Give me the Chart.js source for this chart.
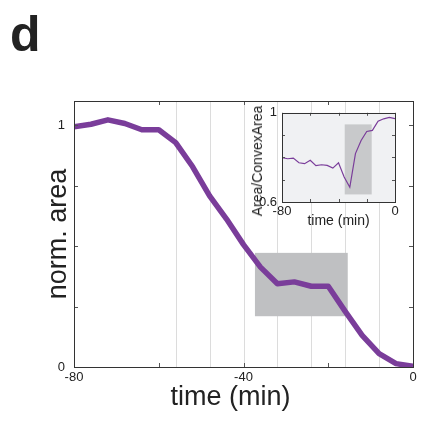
<!DOCTYPE html>
<html>
<head>
<meta charset="utf-8">
<script src="https://cdn.jsdelivr.net/npm/chart.js@4/dist/chart.umd.min.js"></script>
<style>
  body { margin: 0; background: #fff; }
  #wrap { position: relative; width: 446px; height: 427px; }
  #mainChart { position: absolute; left: 0; top: 0; }
  #insetChart { position: absolute; left: 240px; top: 100px; }
  #insetYTitle {
    position: absolute; left: 257px; top: 161px;
    font: 14px/16px "Liberation Sans", Arial, sans-serif; color: #222;
    white-space: nowrap;
    transform: translate(-50%, -50%) rotate(-90deg);
  }
</style>
</head>
<body>
<div id="wrap">
  <canvas id="mainChart" width="446" height="427"></canvas>
  <canvas id="insetChart" width="170" height="135"></canvas>
  <div id="insetYTitle">Area/ConvexArea</div>
</div>
<script>
// main panel: normalised area over time
const times = [-80, -76, -72, -68, -64, -60, -56, -52, -48, -44, -40, -36, -32, -28, -24, -20, -16, -12, -8, -4, 0];
const normArea = [0.993, 1.004, 1.022, 1.007, 0.981, 0.981, 0.928, 0.828, 0.708, 0.612, 0.506, 0.413, 0.344, 0.352, 0.334, 0.334, 0.230, 0.131, 0.055, 0.014, 0.003];

// inset: Area/ConvexArea over time
const insetTimes = [-80, -76, -72, -68, -64, -60, -56, -52, -48, -44, -40, -36, -32, -28, -24, -20, -16, -12, -8, -4, 0];
const solidity = [0.799, 0.794, 0.797, 0.776, 0.772, 0.787, 0.763, 0.767, 0.764, 0.752, 0.776, 0.712, 0.666, 0.817, 0.876, 0.916, 0.921, 0.962, 0.973, 0.979, 0.974];

// shaded windows
const mainBoxTime = [-37.3, -15.4];
const mainBoxArea = [0.21, 0.472];
const insetBoxTime = [-35.6, -16.5];
const insetBoxRatio = [0.634, 0.948];

// ticks and light vertical lines
const mainXTicks = [-80, -60, -40, -20, 0];
const mainXLabels = ['-80', '', '-40', '', '0'];
const mainYTicks = [0, 0.25, 0.5, 0.75, 1];
const mainYLabels = ['0', '', '', '', '1'];
const gridTimes = [-56, -48, -40, -32, -24, -16, -8];
const insetXTicks = [-80, -60, -40, -20, 0];
const insetXLabels = ['-80', '', '', '', '0'];
const insetYTicks = [0.6, 0.7, 0.8, 0.9, 1];
const insetYLabels = ['0.6', '', '', '', '1'];

const purple = '#7a3d9a';
const textColor = '#222';
const fontName = '"Liberation Sans", Arial, sans-serif';

// draws plot background, light grid, shaded box, then frame with inward ticks
function framePlugin(id, boxTime, boxValue, boxColor, plotColor, lines, tickLen) {
    return {
        id: id,
        beforeDatasetsDraw(chart) {
            const { ctx, chartArea: a, scales: { x, y } } = chart;
            ctx.save();
            if (plotColor) {
                ctx.fillStyle = plotColor;
                ctx.fillRect(a.left, a.top, a.width, a.height);
            }
            ctx.strokeStyle = '#dcdcdc';
            ctx.lineWidth = 1;
            lines.forEach(t => {
                const px = Math.round(x.getPixelForValue(t)) + 0.5;
                ctx.beginPath();
                ctx.moveTo(px, a.top);
                ctx.lineTo(px, a.bottom);
                ctx.stroke();
            });
            const x0 = x.getPixelForValue(boxTime[0]);
            const x1 = x.getPixelForValue(boxTime[1]);
            const y0 = y.getPixelForValue(boxValue[1]);
            const y1 = y.getPixelForValue(boxValue[0]);
            ctx.fillStyle = boxColor;
            ctx.fillRect(x0, y0, x1 - x0, y1 - y0);
            ctx.restore();
        },
        afterDatasetsDraw(chart) {
            const { ctx, chartArea: a, scales: { x, y } } = chart;
            ctx.save();
            ctx.lineWidth = 1;
            ctx.strokeStyle = '#555';
            ctx.beginPath();
            x.ticks.forEach(t => {
                const px = Math.round(x.getPixelForValue(t.value)) + 0.5;
                ctx.moveTo(px, a.bottom);
                ctx.lineTo(px, a.bottom - tickLen);
                ctx.moveTo(px, a.top);
                ctx.lineTo(px, a.top + tickLen);
            });
            y.ticks.forEach(t => {
                const py = Math.round(y.getPixelForValue(t.value)) + 0.5;
                ctx.moveTo(a.left, py);
                ctx.lineTo(a.left + tickLen, py);
                ctx.moveTo(a.right, py);
                ctx.lineTo(a.right - tickLen, py);
            });
            ctx.stroke();
            ctx.strokeStyle = '#333';
            ctx.strokeRect(Math.round(a.left) + 0.5, Math.round(a.top) + 0.5, Math.round(a.width), Math.round(a.height));
            ctx.restore();
        }
    };
}

// panel letter and main x title
const mainText = {
    id: 'mainText',
    afterDraw(chart) {
        const ctx = chart.ctx;
        const a = chart.chartArea;
        ctx.save();
        ctx.fillStyle = textColor;
        ctx.font = 'bold 50px ' + fontName;
        ctx.textAlign = 'left';
        ctx.textBaseline = 'alphabetic';
        ctx.fillText('d', 10, 51);
        ctx.font = '27px ' + fontName;
        ctx.textAlign = 'center';
        ctx.textBaseline = 'middle';
        ctx.fillText('time (min)', a.left + a.width / 2 - 13, 398);
        ctx.restore();
    }
};

new Chart(document.getElementById('mainChart'), {
    type: 'line',
    data: {
        datasets: [{
            data: times.map((t, i) => ({ x: t, y: normArea[i] })),
            borderColor: purple,
            borderWidth: 5.5,
            pointRadius: 0,
            borderJoinStyle: 'round'
        }]
    },
    options: {
        responsive: false,
        animation: false,
        layout: { padding: { top: 101, right: 33, bottom: 0, left: 0 } },
        plugins: { legend: { display: false }, tooltip: { enabled: false } },
        scales: {
            x: {
                type: 'linear',
                min: -80,
                max: 0,
                afterBuildTicks: s => { s.ticks = mainXTicks.map(v => ({ value: v })); },
                afterFit: s => { s.height = 60; },
                grid: { display: false, drawTicks: false },
                border: { display: false },
                ticks: {
                    autoSkip: false,
                    maxRotation: 0,
                    padding: 3,
                    color: textColor,
                    font: { family: fontName, size: 13 },
                    callback: (v, i) => mainXLabels[i]
                }
            },
            y: {
                min: 0,
                max: 1.1,
                afterBuildTicks: s => { s.ticks = mainYTicks.map(v => ({ value: v })); },
                afterFit: s => { s.width = 74; },
                grid: { display: false, drawTicks: false },
                border: { display: false },
                ticks: {
                    autoSkip: false,
                    padding: 9,
                    color: textColor,
                    font: { family: fontName, size: 13 },
                    callback: (v, i) => mainYLabels[i]
                },
                title: {
                    display: true,
                    text: 'norm. area',
                    color: textColor,
                    font: { family: fontName, size: 27 },
                    padding: { top: 42, bottom: 0 }
                }
            }
        }
    },
    plugins: [framePlugin('mainFrame', mainBoxTime, mainBoxArea, '#bfc0c2', null, gridTimes, 4), mainText]
});

new Chart(document.getElementById('insetChart'), {
    type: 'line',
    data: {
        datasets: [{
            data: insetTimes.map((t, i) => ({ x: t, y: solidity[i] })),
            borderColor: purple,
            borderWidth: 1.2,
            pointRadius: 0
        }]
    },
    options: {
        responsive: false,
        animation: false,
        layout: { padding: { top: 12, right: 15, bottom: 0, left: 0 } },
        plugins: { legend: { display: false }, tooltip: { enabled: false } },
        scales: {
            x: {
                type: 'linear',
                min: -80,
                max: 0,
                afterBuildTicks: s => { s.ticks = insetXTicks.map(v => ({ value: v })); },
                afterFit: s => { s.height = 33; },
                grid: { display: false, drawTicks: false },
                border: { display: false },
                ticks: {
                    autoSkip: false,
                    maxRotation: 0,
                    padding: 1.5,
                    color: textColor,
                    font: { family: fontName, size: 13 },
                    callback: (v, i) => insetXLabels[i]
                },
                title: {
                    display: true,
                    text: 'time (min)',
                    color: textColor,
                    font: { family: fontName, size: 14 },
                    padding: { top: 0, bottom: 5.6 }
                }
            },
            y: {
                min: 0.6,
                max: 1,
                afterBuildTicks: s => { s.ticks = insetYTicks.map(v => ({ value: v })); },
                afterFit: s => { s.width = 42; },
                grid: { display: false, drawTicks: false },
                border: { display: false },
                ticks: {
                    autoSkip: false,
                    padding: 5,
                    color: textColor,
                    font: { family: fontName, size: 13 },
                    callback: (v, i) => insetYLabels[i]
                }
            }
        }
    },
    plugins: [framePlugin('insetFrame', insetBoxTime, insetBoxRatio, '#c8c9cb', '#f0f1f3', [], 3)]
});
</script>
</body>
</html>
